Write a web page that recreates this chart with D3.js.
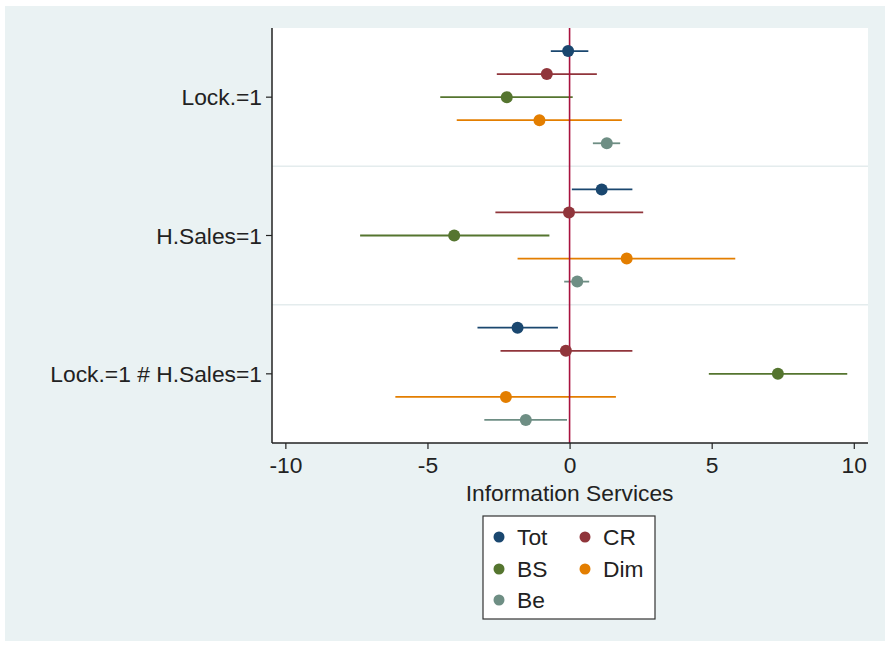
<!DOCTYPE html>
<html><head><meta charset="utf-8">
<script src="https://cdn.jsdelivr.net/npm/d3@7"></script>
<style>body{margin:0;background:#fff}svg{display:block}text{font-family:"Liberation Sans",Arial,sans-serif;fill:#222}</style>
</head><body><svg id="c" width="888" height="646"></svg>
<script>
const groups = ["Lock.=1", "H.Sales=1", "Lock.=1 # H.Sales=1"];
const seriesNames = ["Tot", "CR", "BS", "Dim", "Be"];
const colors = ["#1a476f", "#90353b", "#55752f", "#e37e00", "#6e8e84"];
// point estimates per group, in series order
const estimates = [
  [-0.05, -0.80, -2.21, -1.06, 1.31],
  [1.13, -0.02, -4.06, 2.01, 0.27],
  [-1.83, -0.13, 7.33, -2.24, -1.54]
];
const lower = [
  [-0.66, -2.56, -4.55, -3.97, 0.82],
  [0.08, -2.61, -7.37, -1.83, -0.19],
  [-3.24, -2.43, 4.90, -6.13, -3.00]
];
const upper = [
  [0.66, 0.96, 0.11, 1.84, 1.78],
  [2.21, 2.59, -0.71, 5.83, 0.69],
  [-0.41, 2.21, 9.77, 1.63, -0.09]
];
const xTicks = [-10, -5, 0, 5, 10];
const xTitle = "Information Services";

const svg = d3.select("#c");
const L = 272, R = 868, T = 28, B = 443;
const FS = 22.8;
svg.append("rect").attr("x",5).attr("y",6).attr("width",880).attr("height",635).attr("fill","#eaf2f3");
svg.append("rect").attr("x",L).attr("y",T).attr("width",R-L).attr("height",B-T).attr("fill","#fff");

const x = d3.scaleLinear().domain([-10.47, 10.5]).range([L, R]);
// 18 slots: each group has 6 slots, rows at slots 1..5
const y = d3.scaleLinear().domain([0, 18]).range([T, B]);
const rowY = (g, s) => y(g*6 + s + 1);
const groupY = g => y(g*6 + 3);

// separators
[1,2].forEach(g => {
  svg.append("line").attr("x1",L).attr("x2",R).attr("y1",y(g*6)).attr("y2",y(g*6))
    .attr("stroke","#e4eced").attr("stroke-width",1.5);
});

const data = [];
groups.forEach((g,gi) => seriesNames.forEach((s,si) => data.push({gi, si, est: estimates[gi][si], lo: lower[gi][si], hi: upper[gi][si]})));

svg.append("g").selectAll("line").data(data).join("line")
  .attr("x1", d => x(d.lo)).attr("x2", d => x(d.hi))
  .attr("y1", d => rowY(d.gi,d.si)).attr("y2", d => rowY(d.gi,d.si))
  .attr("stroke", d => colors[d.si]).attr("stroke-width", 1.8);

// zero line
svg.append("line").attr("x1",x(0)).attr("x2",x(0)).attr("y1",T).attr("y2",B)
  .attr("stroke","#a8123e").attr("stroke-width",1.6);

svg.append("g").selectAll("circle").data(data).join("circle")
  .attr("cx", d => x(d.est)).attr("cy", d => rowY(d.gi,d.si)).attr("r", 6)
  .attr("fill", d => colors[d.si]);

// axes
const xAxis = d3.axisBottom(x).tickValues(xTicks).tickSize(6).tickPadding(6).tickFormat(d => String(d));
const gx = svg.append("g").attr("transform",`translate(0,${B})`).call(xAxis);
gx.select(".domain").attr("stroke","#222").attr("stroke-width",1.5).attr("d",`M${L},0H${R}`);
gx.selectAll(".tick line").attr("stroke","#222").attr("stroke-width",1.2);
gx.selectAll("text").attr("font-size",FS).attr("fill","#222").attr("dy",null).attr("y",30)
  .style("font-family","Liberation Sans, Arial, sans-serif");

const gy = svg.append("g").attr("transform",`translate(${L},0)`);
gy.append("line").attr("x1",0).attr("x2",0).attr("y1",T).attr("y2",B).attr("stroke","#222").attr("stroke-width",1.5);
groups.forEach((g,gi) => {
  gy.append("line").attr("x1",-6).attr("x2",0).attr("y1",groupY(gi)).attr("y2",groupY(gi)).attr("stroke","#222").attr("stroke-width",1.2);
  gy.append("text").attr("x",-10).attr("y",groupY(gi)).attr("dy","0.36em").attr("text-anchor","end")
    .attr("font-size",FS).text(g);
});

svg.append("text").attr("x",x(0)).attr("y",501).attr("text-anchor","middle").attr("font-size",FS).text(xTitle);

// legend
const lg = svg.append("g");
lg.append("rect").attr("x",483).attr("y",516).attr("width",172).attr("height",103).attr("fill","#fff").attr("stroke","#333").attr("stroke-width",1.2);
const legPos = [[499,537],[585,537],[499,569],[585,569],[499,600]];
seriesNames.forEach((s,i) => {
  lg.append("circle").attr("cx",legPos[i][0]).attr("cy",legPos[i][1]).attr("r",5.5).attr("fill",colors[i]);
  lg.append("text").attr("x",legPos[i][0]+18).attr("y",legPos[i][1]).attr("dy","0.36em").attr("font-size",FS).text(s);
});
</script></body></html>
